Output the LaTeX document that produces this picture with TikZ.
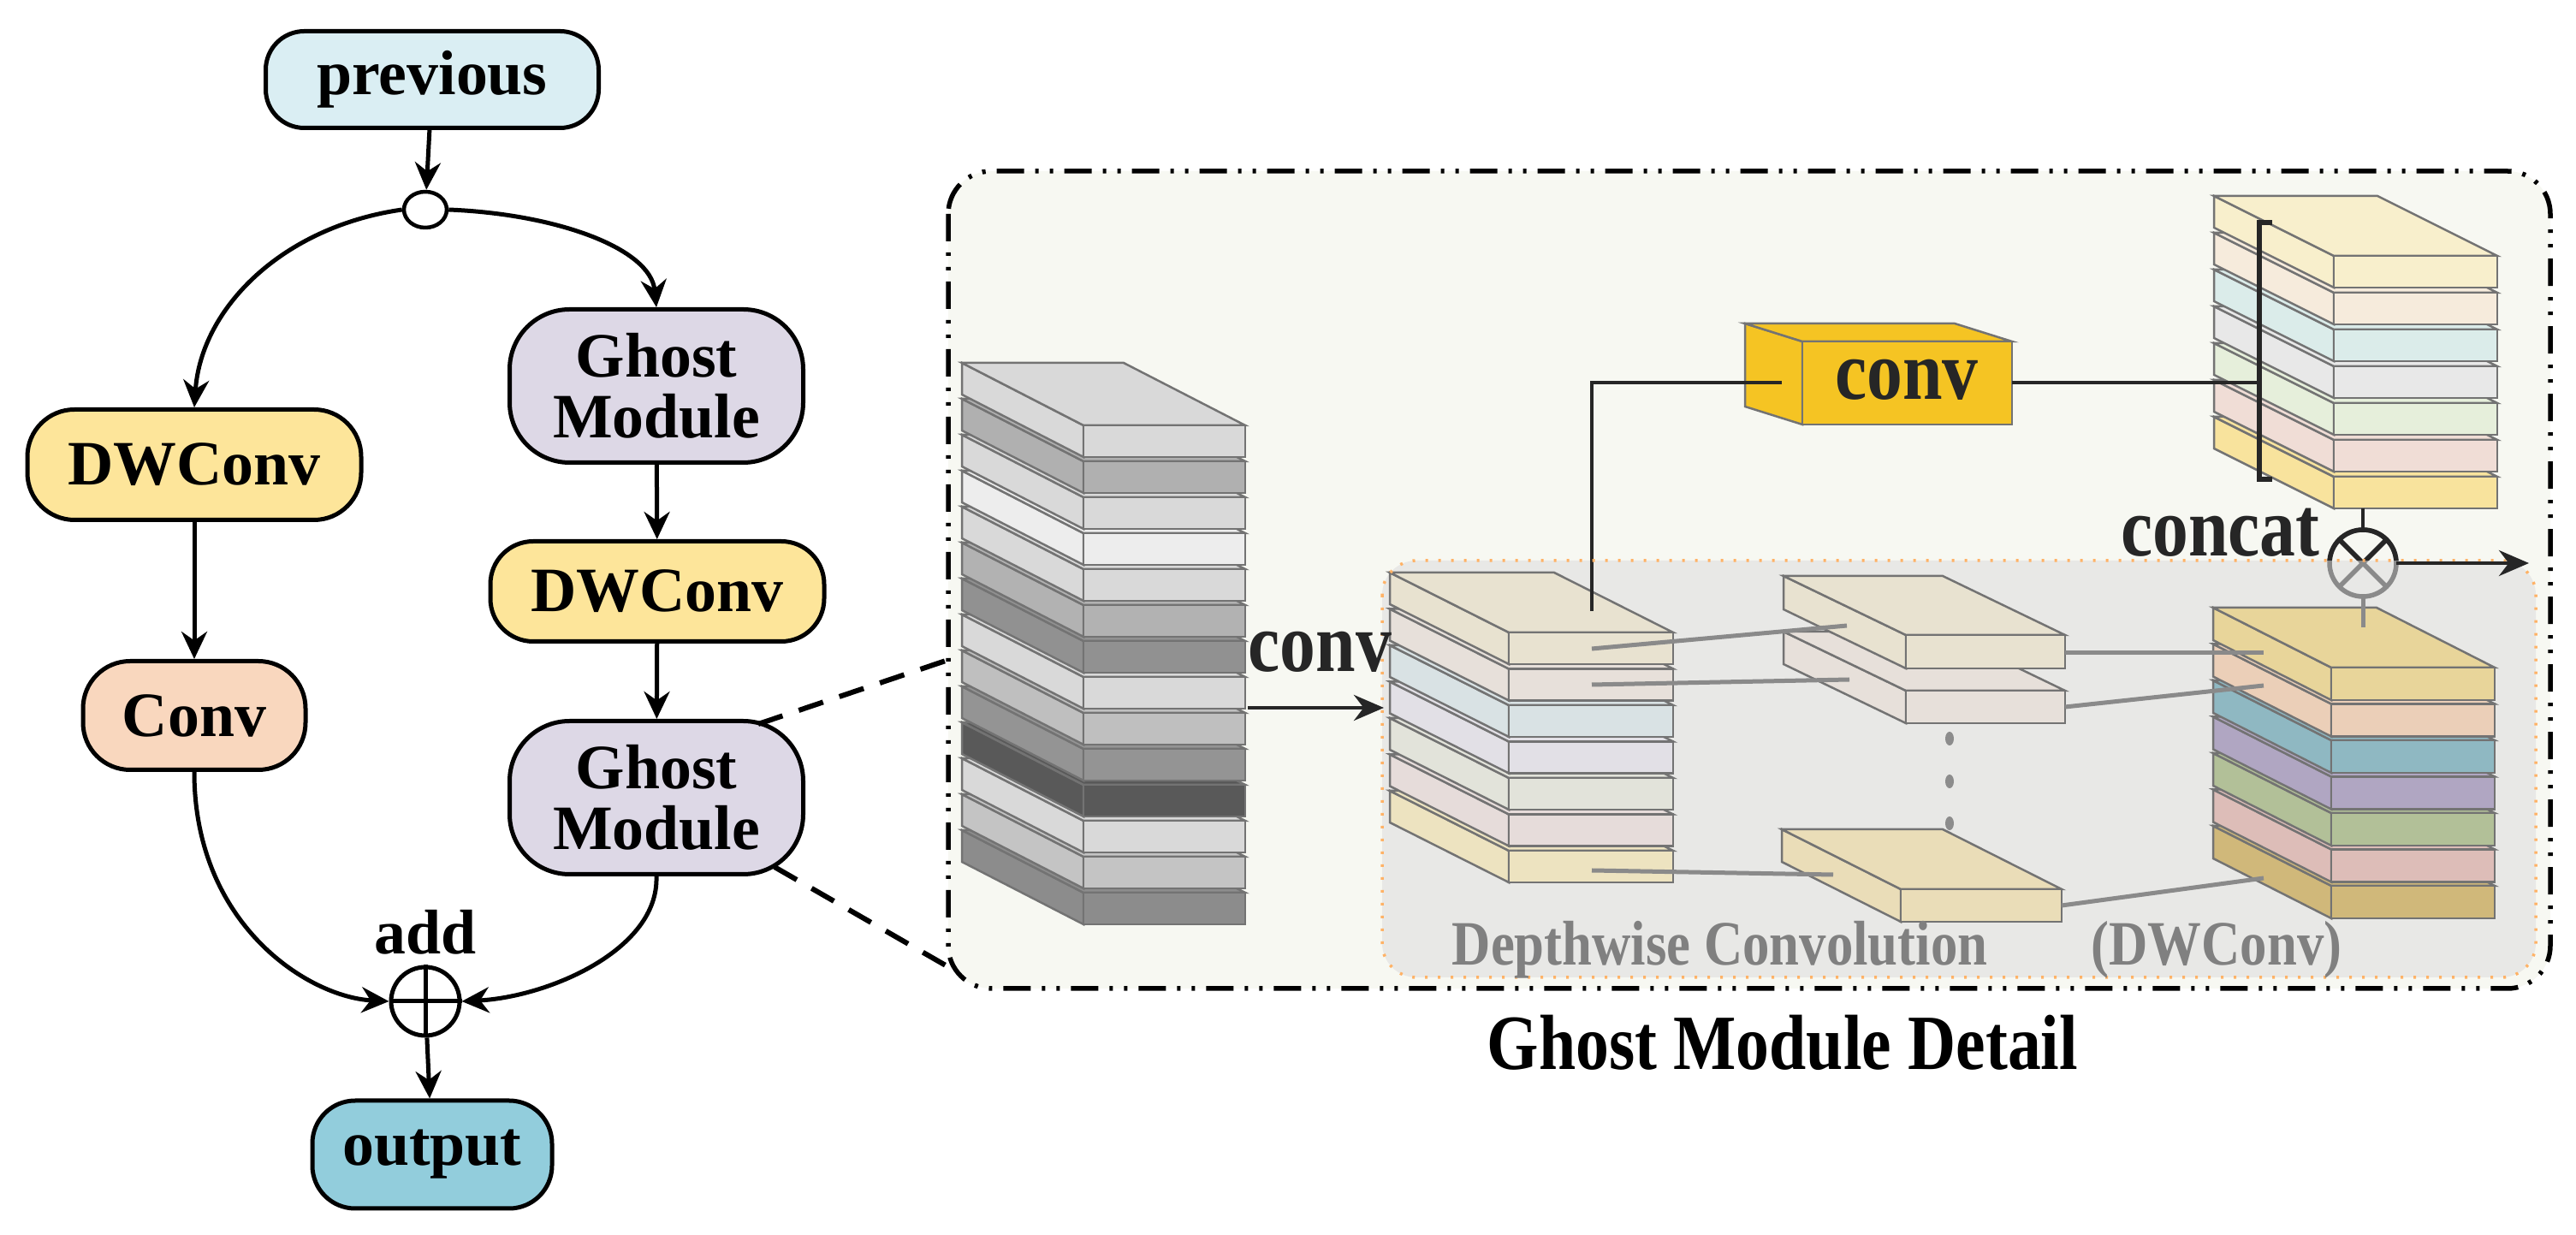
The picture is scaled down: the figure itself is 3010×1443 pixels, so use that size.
\documentclass[tikz,border=0pt]{standalone}
\usepackage{fontspec}
\setmainfont{Liberation Serif}
\newfontfamily\cnd{Liberation Serif}[FakeStretch=0.85]
\usetikzlibrary{arrows.meta,shapes.geometric,calc}
\definecolor{frameBg}{HTML}{F7F8F2}
\definecolor{ovl}{HTML}{E8E8E6}
\definecolor{cPrev}{HTML}{DAEEF3}
\definecolor{cDW}{HTML}{FDE59A}
\definecolor{cConv}{HTML}{F9D7BE}
\definecolor{cGhost}{HTML}{DDD8E6}
\definecolor{cOut}{HTML}{92CDDC}
\definecolor{cYel}{HTML}{F5C423}
\definecolor{gline}{HTML}{8A8A8A}
\newcommand\slab[7]{%
  \filldraw[slabline,fill=#7] (#1,#2) -- ({#1+#5},{#2+#6}) -- ({#1+#5},{#2+#6+#4}) -- (#1,{#2+#4}) -- cycle;
  \filldraw[slabline,fill=#7] (#1,#2) -- ({#1+#5},{#2+#6}) -- ({#1+#3+#5},{#2+#6}) -- ({#1+#3},#2) -- cycle;
  \filldraw[slabline,fill=#7] (#1,#2) rectangle ({#1+#3},{#2+#4});}
\tikzset{
  slabline/.style={draw=black!55,line width=0.25mm},
  box/.style={draw=black,line width=0.5mm,align=center,font=\bfseries\fontsize{21}{23}\selectfont,inner sep=0pt},
  arr/.style={line width=0.5mm,-{Stealth[length=3.2mm,width=3mm]}},
  gl/.style={gline,line width=0.5mm},
  kl/.style={black!85,line width=0.45mm},
}
\begin{document}
\begin{tikzpicture}[x=0.1mm,y=-0.1mm]
\useasboundingbox (0,0) rectangle (3010,1443);
% ---------- left flow ----------
\node[box,fill=cPrev,minimum width=38.9mm,minimum height=11.3mm,rounded corners=4.5mm] (prev) at (505,93) {previous};
\node[draw=black,line width=0.45mm,fill=white,ellipse,minimum width=5mm,minimum height=4.2mm,inner sep=0pt] (split) at (497,245) {};
\node[box,fill=cGhost,minimum width=34.3mm,minimum height=17.9mm,rounded corners=7mm] (g1) at (767,451) {Ghost\\[-1mm]Module};
\node[box,fill=cDW,minimum width=39mm,minimum height=12.9mm,rounded corners=5.5mm] (dwl) at (227,543) {DWConv};
\node[box,fill=cConv,minimum width=26mm,minimum height=12.7mm,rounded corners=5.5mm] (convl) at (227,836) {Conv};
\node[box,fill=cDW,minimum width=39mm,minimum height=11.7mm,rounded corners=5mm] (dwr) at (768,691) {DWConv};
\node[box,fill=cGhost,minimum width=34.3mm,minimum height=17.9mm,rounded corners=7mm] (g2) at (767,932) {Ghost\\[-1mm]Module};
\node[draw=black,line width=0.5mm,circle,minimum size=8mm,inner sep=0pt] (add) at (497,1170) {};
\draw[line width=0.5mm] (add.north)--(add.south) (add.west)--(add.east);
\node[font=\bfseries\fontsize{21}{23}\selectfont,anchor=south] (addl) at (497,1128) {add};
\node[box,fill=cOut,minimum width=28mm,minimum height=12.6mm,rounded corners=5mm] (out) at (505,1349) {output};
\draw[arr] (prev) -- (split);
\draw[arr] (split.west) .. controls (330,265) and (235,360) .. (dwl.north);
\draw[arr] (split.east) .. controls (650,250) and (760,290) .. (g1.north);
\draw[arr] (dwl) -- (convl);
\draw[arr] (g1) -- (dwr);
\draw[arr] (dwr) -- (g2);
\draw[arr] (convl.south) .. controls (227,1080) and (360,1165) .. (add.west);
\draw[arr] (g2.south) .. controls (770,1110) and (640,1165) .. (add.east);
\draw[arr] (add) -- (out);
\coordinate (d1) at (1105,772);
\coordinate (d2) at (1105,1128);
\draw[line width=0.6mm,dash pattern=on 3mm off 2mm] (886,846) -- (d1);
\draw[line width=0.6mm,dash pattern=on 3mm off 2mm] (905,1013) -- (d2);
% ---------- detail frame ----------
\draw[fill=frameBg,line width=0.55mm,rounded corners=5mm,dash pattern=on 3.2mm off 1.3mm on 0.4mm off 1.3mm on 0.4mm off 1.3mm] (1108,200) rectangle (2980,1155);
\fill[ovl,rounded corners=4mm] (1615,655) rectangle (2963,1142);
% grey input stack
\foreach \t/\c in {13/{black!45},12/{black!23},11/{black!15},10/{black!65},9/{black!42},8/{black!25},7/{black!15},6/{black!43},5/{black!30},4/{black!15},3/{black!7},2/{black!15},1/{black!31},0/{black!15}}{
  \slab{1266}{497+42*\t}{189}{37}{-142}{-73}{\c}}
% stack A
\foreach \t/\c in {6/EDE3C0,5/E6DCDA,4/E2E3DA,3/E2E0E6,2/D9E2E4,1/E7E0DA,0/E8E2D0}{
  \definecolor{tmp}{HTML}{\c}\slab{1763}{739+42.5*\t}{192}{37}{-139}{-70}{tmp}}
% middle slabs
\definecolor{m1}{HTML}{E8E2D0}\definecolor{m2}{HTML}{E7E0DA}\definecolor{m3}{HTML}{EADDB8}
\slab{2227}{807}{186}{38}{-143}{-69}{m2}
\slab{2227}{742}{186}{39}{-143}{-69}{m1}
\slab{2221}{1039}{188}{38}{-139}{-70}{m3}
\foreach \yy in {863,913,962} \fill[black!45] (2278,\yy) ellipse (0.5mm and 0.8mm);
% stack C
\foreach \t/\c in {6/D0B87A,5/DDBDB8,4/B2C098,3/B0A6C2,2/8FB8C2,1/EBCFB8,0/E8D59A}{
  \definecolor{tmp}{HTML}{\c}\slab{2724}{780+42.5*\t}{191}{38}{-138}{-70}{tmp}}
% gray connectors
\draw[gl] (1860,758) -- (2158,731);
\draw[gl] (1860,800) -- (2161,794);
\draw[gl] (1860,1017) -- (2142,1022);
\draw[gl] (2413,763) -- (2645,763);
\draw[gl] (2413,826) -- (2645,801);
\draw[gl] (2409,1058) -- (2645,1026);
% conv box
\slab{2106}{399}{245}{97}{-67}{-21}{cYel}
\node[font=\cnd\bfseries\fontsize{28}{30}\selectfont,text=black!85] (cbox) at (2228,444) {conv};
\coordinate (cl) at (2082,447);
\coordinate (cr) at (2351,447);
\coordinate (aTop) at (1860,714);
% concat stack
\foreach \t/\c in {6/F8E39D,5/F0DDD6,4/E6EFDB,3/E8E8E8,2/DBECEA,1/F6EBDC,0/F8EFCC}{
  \definecolor{tmp}{HTML}{\c}\slab{2727}{299+43*\t}{191}{37}{-140}{-70}{tmp}}
\coordinate (brT) at (2640,260);
\coordinate (brB) at (2640,560);
\draw[kl,line width=0.55mm] ($(brT)+(15,0)$) -- (brT) -- (brB) -- ($(brB)+(15,0)$);
\draw[kl] (cl) -| (aTop);
\draw[kl] (cr) -- (2640,447);
% otimes
\coordinate (ot) at (2761,658);
\draw[gline,line width=0.55mm] (ot) circle (39) ($(ot)+(-27.6,-27.6)$) -- ($(ot)+(27.6,27.6)$) ($(ot)+(27.6,-27.6)$) -- ($(ot)+(-27.6,27.6)$);
\begin{scope}
\clip (2700,590) rectangle (2830,655);
\draw[black!85,line width=0.55mm] (ot) circle (39) ($(ot)+(-27.6,-27.6)$) -- ($(ot)+(27.6,27.6)$) ($(ot)+(27.6,-27.6)$) -- ($(ot)+(-27.6,27.6)$);
\end{scope}
\draw[kl] (2761,594) -- (2761,619);
\draw[gl] (2761,733) -- (2761,697);
% orange dotted border
\draw[orange!60,line width=0.35mm,dash pattern=on 0.3mm off 1.2mm,rounded corners=4mm] (1615,655) rectangle (2963,1142);
\coordinate (outR) at (2955,658);
\draw[kl,-{Stealth[length=3.5mm,width=3mm]}] (2800,658) -- (outR);
% input arrow
\coordinate (inL) at (1458,827);
\coordinate (inR) at (1617,827);
\draw[kl,-{Stealth[length=3.5mm,width=3mm]}] (inL) -- (inR);
\node[font=\cnd\bfseries\fontsize{28}{30}\selectfont,text=black!85,anchor=base west,inner sep=0pt] (convlab) at (1458,785) {conv};
\node[font=\cnd\bfseries\fontsize{28}{30}\selectfont,text=black!85,anchor=base east,inner sep=0pt] (concat) at (2711,650) {concat};
\node[font=\cnd\bfseries\fontsize{21}{23}\selectfont,text=black!50,anchor=base west,inner sep=0pt] (dwtxt) at (1696,1128) {Depthwise Convolution};
\node[font=\cnd\bfseries\fontsize{21}{23}\selectfont,text=black!50,anchor=base west,inner sep=0pt] (dwtxt2) at (2443,1128) {(DWConv)};
\node[font=\cnd\bfseries\fontsize{26}{28}\selectfont,anchor=base west,inner sep=0pt] (title) at (1737,1250) {Ghost Module Detail};
\end{tikzpicture}
\end{document}
